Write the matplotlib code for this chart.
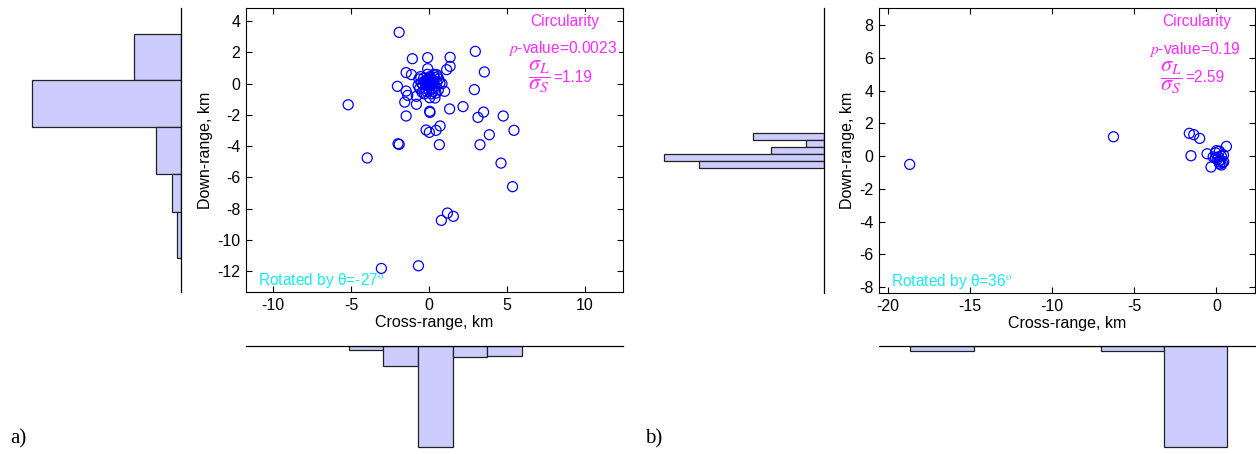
import matplotlib.pyplot as plt
import numpy as np

plt.rcParams['font.family'] = ['Liberation Sans', 'DejaVu Sans']
plt.rcParams['mathtext.fontset'] = 'stix'
plt.rcParams['axes.unicode_minus'] = False

# ---------------- panel a data ----------------
cross_a = [-1.92, 2.97, -1.07, -0.09, 1.35, 1.13, 1.35, -0.09, 3.55, -1.47,
           -1.13, 0.49, 0.83, -2.03, -1.47, 2.91, 1.00, -1.37, -0.81, -1.56,
           -0.81, -5.19, 0.38, 0.04, 1.32, 2.18, 0.04, 0.06, -1.47, 3.50,
           3.14, 4.76, 0.71, -0.19, 0.02, 0.45, 5.45, 3.87, -1.99, -1.92,
           0.66, 3.27, -3.97, 4.62, 5.36, 1.18, 1.56, 0.79, -3.06, -0.68,
           0.00, 0.15, -0.12, 0.05, -0.20, 0.25, 0.10, -0.05, -0.30, 0.30,
           -0.25, 0.20, 0.00, -0.40, 0.40, 0.35, -0.35, 0.05, -0.15, 0.25,
           -0.50, 0.50, -0.60, 0.60, -0.55, 0.55, -0.10, 0.15, -0.45, 0.45,
           -0.70, 0.70, 0.30, -0.30, 0.08, -0.08, 0.12, -0.02, 0.20, -0.18,
           -0.65, 0.62]
down_a = [3.29, 2.07, 1.60, 1.67, 1.69, 0.90, 1.11, 0.96, 0.75, 0.71,
          0.58, 0.58, 0.00, -0.17, -0.47, -0.38, -0.49, -0.75, -0.81, -1.18,
          -1.32, -1.35, -0.92, -0.90, -1.62, -1.47, -1.77, -1.84, -2.07, -1.82,
          -2.16, -2.07, -2.71, -2.97, -3.12, -2.99, -2.99, -3.27, -3.85, -3.89,
          -3.91, -3.91, -4.76, -5.09, -6.60, -8.29, -8.50, -8.76, -11.84, -11.67,
          0.00, 0.10, 0.08, -0.15, -0.10, -0.05, 0.25, 0.30, 0.15, 0.20,
          -0.30, -0.30, -0.40, -0.05, -0.15, 0.40, 0.35, 0.45, -0.50, -0.50,
          0.05, 0.10, -0.30, -0.40, 0.45, 0.45, 0.60, -0.65, -0.55, -0.60,
          -0.10, 0.05, 0.60, -0.65, 0.12, -0.05, -0.08, 0.18, 0.02, 0.20,
          0.30, 0.30]

# histogram of down-range (bin edges top->bottom, fraction of points)
down_edges_a = [3.21, 0.22, -2.80, -5.79, -8.21, -11.19]
down_freq_a = [0.200, 0.640, 0.107, 0.037, 0.016]
# histogram of cross-range
cross_edges_a = [-5.15, -2.94, -0.70, 1.51, 3.73, 5.97]
cross_freq_a = [0.029, 0.139, 0.688, 0.075, 0.068]

# ---------------- panel b data ----------------
cross_b = [-18.68, -6.27, -1.65, -1.38, -1.02, -1.55, 0.61, -0.57, -0.33,
           0.00, 0.18, -0.05, 0.12, 0.43, -0.06, 0.24, 0.30, -0.20, 0.05,
           0.37, 0.14, 0.30, 0.45, 0.20]
down_b = [-0.51, 1.18, 1.39, 1.31, 1.08, 0.02, 0.59, 0.14, -0.67,
          0.33, 0.30, 0.20, -0.05, 0.07, -0.11, -0.24, 0.00, -0.05, -0.20,
          -0.42, -0.34, -0.55, -0.35, -0.48]

down_edges_b = [1.39, 0.96, 0.54, 0.15, -0.30, -0.74]
down_count_b = [4, 1, 3, 9, 7]
cross_edges_b = [-18.64, -14.79, -10.93, -7.04, -3.22, 0.65]
cross_count_b = [1, 0, 0, 1, 22]

W, H = 1256, 454
fig = plt.figure(figsize=(W / 100, H / 100), dpi=100)

MAG = '#ff2bff'
CYA = '#18ecf0'
BAR = '#ccccff'


def px_axes(x0, y0, x1, y1):
    return fig.add_axes([x0 / W, 1 - y1 / H, (x1 - x0) / W, (y1 - y0) / H])


def draw_panel(sc_box, lh_box, bh_box, cx, cy, xlim, ylim, xticks, yticks,
               d_edges, d_vals, d_max, c_edges, c_vals, c_max,
               pval, ratio, theta, letter, letter_x):
    ax = px_axes(*sc_box)
    ax.scatter(cx, cy, s=52, facecolors='none', edgecolors='#0000ff',
               linewidths=0.9, zorder=2)
    ax.set_xlim(*xlim)
    ax.set_ylim(*ylim)
    ax.set_xticks(xticks)
    ax.set_yticks(yticks)
    ax.tick_params(direction='in', top=True, right=True, length=4,
                   width=0.8, labelsize=11.5, pad=4)
    for sp in ax.spines.values():
        sp.set_linewidth(0.8)
    ax.set_xlabel('Cross-range, km', fontsize=11.5, labelpad=2)
    ax.set_ylabel('Down-range, km', fontsize=11.5, labelpad=3)

    box = dict(facecolor='white', edgecolor='none', pad=1.5)
    ax.text(0.846, 0.951, 'Circularity', color=MAG, fontsize=11.2,
            ha='center', va='center', transform=ax.transAxes, bbox=box, zorder=5)
    ax.text(0.84, 0.856, r'$p$-value=' + pval, color=MAG, fontsize=11.2,
            ha='center', va='center', transform=ax.transAxes, bbox=box, zorder=5)
    frac = r'$\dfrac{\boldsymbol{\sigma_L}}{\boldsymbol{\sigma_S}}$'
    ax.text(0.777, 0.757, frac, color=MAG, fontsize=16, ha='center',
            va='center', transform=ax.transAxes, zorder=5)
    ax.text(0.815, 0.757, '=' + ratio, color=MAG, fontsize=11.2, ha='left',
            va='center', transform=ax.transAxes, zorder=5)
    ax.text(0.032, 0.039, 'Rotated by θ=' + theta + r'$^{\rm o}$', color=CYA,
            fontsize=11.2, ha='left', va='center', transform=ax.transAxes)

    # left histogram (down-range)
    lh = px_axes(*lh_box)
    tops = d_edges[:-1]
    heights = np.diff(d_edges)
    lh.barh(tops, d_vals, height=heights, align='edge', color=BAR,
            edgecolor='#222222', linewidth=0.9)
    lh.set_xlim(d_max, 0)
    lh.set_ylim(*ylim)
    lh.set_xticks([])
    lh.set_yticks([])
    for k in ['left', 'top', 'bottom']:
        lh.spines[k].set_visible(False)
    lh.spines['right'].set_linewidth(0.9)
    lh.patch.set_alpha(0)

    # bottom histogram (cross-range)
    bh = px_axes(*bh_box)
    bh.bar(c_edges[:-1], c_vals, width=np.diff(c_edges), align='edge',
           color=BAR, edgecolor='#222222', linewidth=0.9)
    bh.set_xlim(*xlim)
    bh.set_ylim(c_max, 0)
    bh.set_xticks([])
    bh.set_yticks([])
    for k in ['left', 'right', 'bottom']:
        bh.spines[k].set_visible(False)
    bh.spines['top'].set_linewidth(0.9)
    bh.patch.set_alpha(0)

    fig.text(letter_x / W, 1 - 439 / H, letter, family='Liberation Serif',
             fontsize=15, ha='left', va='center')


draw_panel((246, 8, 623, 292), (20, 8, 181, 292), (246, 346, 623, 450),
           cross_a, down_a, (-11.75, 12.45), (-13.35, 4.85),
           [-10, -5, 0, 5, 10], list(range(-12, 5, 2)),
           down_edges_a, down_freq_a, 0.69, cross_edges_a, cross_freq_a, 0.711,
           '0.0023', '1.19', '-27', 'a)', 10)

draw_panel((879, 8, 1255, 293), (654, 8, 824, 293), (879, 346, 1255, 450),
           cross_b, down_b, (-20.55, 2.35), (-8.37, 9.05),
           [-20, -15, -10, -5, 0], list(range(-8, 9, 2)),
           down_edges_b, down_count_b, 9.55, cross_edges_b, cross_count_b, 22.7,
           '0.19', '2.59', '36', 'b)', 645)

fig.savefig('out.png', dpi=100)
